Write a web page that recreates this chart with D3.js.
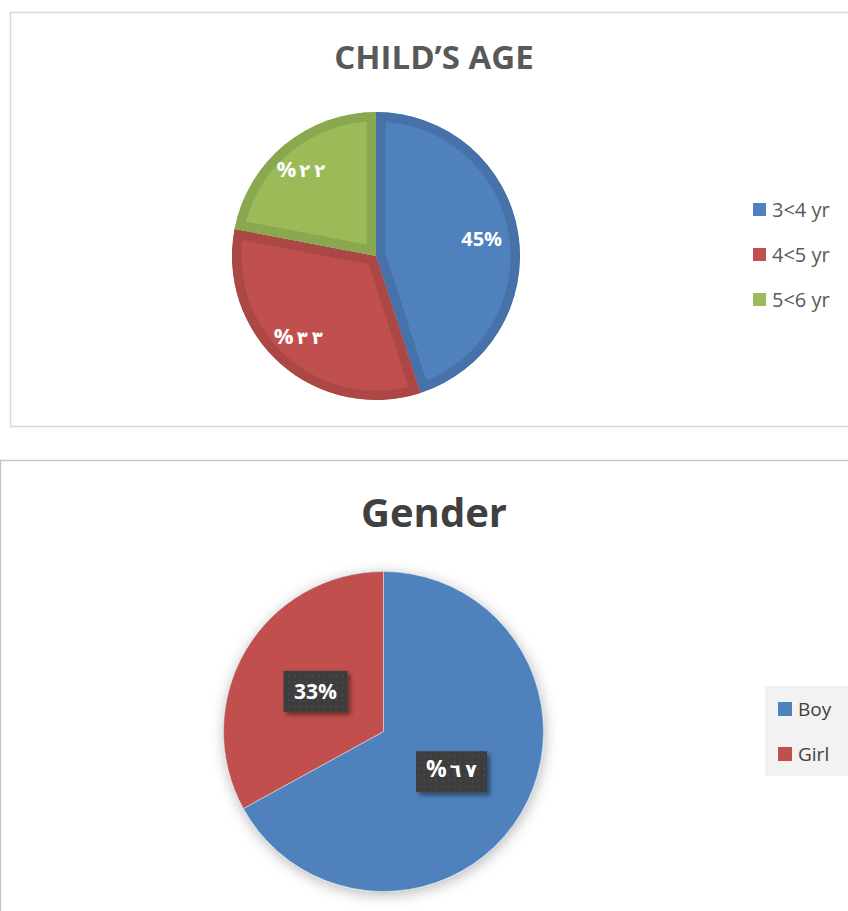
<!DOCTYPE html>
<html>
<head>
<meta charset="utf-8">
<script src="https://cdn.jsdelivr.net/npm/d3@7"></script>
<style>
  body { margin: 0; background: #fff; }
  svg { display: block; font-family: "Open Sans", "DejaVu Sans", sans-serif; }
</style>
</head>
<body>
<svg id="chart" width="848" height="911"></svg>
<script>
// data
const ageLabels = ["3<4 yr", "4<5 yr", "5<6 yr"];
const ageValues = [45, 33, 22];
const ageText = ["45%", "%٣٣", "%٢٢"];
const ageColors = ["#4f81bd", "#c0504d", "#9bbb59"];
const ageEdge = ["#4672a9", "#ab4744", "#8aa84f"];

const genderLabels = ["Boy", "Girl"];
const genderValues = [67, 33];
const genderText = ["%٦٧", "33%"];
const genderColors = ["#4f81bd", "#c0504d"];

const svg = d3.select("#chart");
const defs = svg.append("defs");

// dotted dark texture for gender labels
const pat = defs.append("pattern")
    .attr("id", "dots")
    .attr("width", 6).attr("height", 6)
    .attr("patternUnits", "userSpaceOnUse");
pat.append("rect").attr("width", 6).attr("height", 6).attr("fill", "#3d3d3d");
pat.append("circle").attr("cx", 3).attr("cy", 3).attr("r", 1).attr("fill", "#4d4d4d");

const glow = defs.append("filter").attr("id", "pieShadow")
    .attr("x", "-20%").attr("y", "-20%").attr("width", "140%").attr("height", "140%");
glow.append("feDropShadow")
    .attr("dx", 1).attr("dy", 3).attr("stdDeviation", 7)
    .attr("flood-color", "#000").attr("flood-opacity", 0.28);

const boxShadow = defs.append("filter").attr("id", "boxShadow")
    .attr("x", "-30%").attr("y", "-30%").attr("width", "160%").attr("height", "160%");
boxShadow.append("feDropShadow")
    .attr("dx", 3).attr("dy", 3).attr("stdDeviation", 2)
    .attr("flood-color", "#000").attr("flood-opacity", 0.45);

const pie = d3.pie().sort(null).value(d => d);

// arabic labels: big bold "%" then spaced, smaller digits
function writeLabel(sel, str, size) {
    if (str[0] === "%") {
        sel.append("tspan").attr("font-size", size + 2).text("%");
        Array.from(str.slice(1)).forEach((ch, k) => {
            sel.append("tspan")
                .attr("dx", k === 0 ? 3 : 4)
                .attr("font-family", "DejaVu Sans")
                .attr("font-size", size - 2)
                .text(ch);
        });
    } else {
        sel.attr("font-size", size).text(str);
    }
}

// ---------- top chart: child's age ----------
svg.append("rect")
    .attr("x", 10.5).attr("y", 12.5)
    .attr("width", 850).attr("height", 414)
    .attr("fill", "#fff").attr("stroke", "#d9d9d9").attr("stroke-width", 1.5);

svg.append("text")
    .attr("x", 434).attr("y", 69)
    .attr("text-anchor", "middle")
    .attr("font-size", 33).attr("font-weight", 700)
    .attr("fill", "#595959")
    .text("CHILD’S AGE");

const ageR = 144;
const ageArc = d3.arc().innerRadius(0).outerRadius(ageR);
const ageLabelArc = d3.arc().innerRadius(110).outerRadius(110);

const ageG = svg.append("g").attr("transform", "translate(376,256)");
const ageSlices = pie(ageValues);

ageSlices.forEach((d, i) => {
    defs.append("clipPath").attr("id", "ageClip" + i)
        .append("path").attr("d", ageArc(d));
});

ageG.selectAll("path.slice")
    .data(ageSlices)
    .join("path")
    .attr("class", "slice")
    .attr("d", ageArc)
    .attr("clip-path", (d, i) => `url(#ageClip${i})`)
    .attr("fill", (d, i) => ageColors[i])
    .attr("stroke", (d, i) => ageEdge[i])
    .attr("stroke-width", 19)
    .attr("stroke-linejoin", "miter");

ageG.selectAll("text")
    .data(ageSlices)
    .join("text")
    .attr("transform", d => `translate(${ageLabelArc.centroid(d)})`)
    .attr("text-anchor", "middle")
    .attr("dx", (d, i) => ageText[i][0] === "%" ? -5 : -3)
    .attr("dy", "0.36em")
    .attr("font-weight", 700)
    .attr("fill", "#fff")
    .each(function(d, i) { writeLabel(d3.select(this), ageText[i], 20); });

const ageLegend = svg.append("g").attr("transform", "translate(753,203)");
const ageRow = ageLegend.selectAll("g")
    .data(ageLabels)
    .join("g")
    .attr("transform", (d, i) => `translate(0,${i * 45})`);
ageRow.append("rect")
    .attr("width", 13).attr("height", 13)
    .attr("fill", (d, i) => ageColors[i]);
ageRow.append("text")
    .attr("x", 19).attr("y", 13.5)
    .attr("font-size", 20)
    .attr("fill", "#595959")
    .text(d => d);

// ---------- bottom chart: gender ----------
svg.append("rect")
    .attr("x", 0.5).attr("y", 460.5)
    .attr("width", 860).attr("height", 460)
    .attr("fill", "#fff").attr("stroke", "#c6c6c6").attr("stroke-width", 1.5);

svg.append("text")
    .attr("x", 434).attr("y", 527)
    .attr("text-anchor", "middle")
    .attr("font-size", 40).attr("font-weight", 700)
    .attr("fill", "#404040")
    .text("Gender");

const genR = 160;
const genArc = d3.arc().innerRadius(0).outerRadius(genR);
const genLabelArc = d3.arc().innerRadius(79).outerRadius(79);
const genSlices = pie(genderValues);

const genG = svg.append("g").attr("transform", "translate(383.5,731.5)");

genG.append("g")
    .attr("filter", "url(#pieShadow)")
    .selectAll("path")
    .data(genSlices)
    .join("path")
    .attr("d", genArc)
    .attr("fill", (d, i) => genderColors[i])
    .attr("stroke", "#d9e2f0")
    .attr("stroke-width", 0.6);

const genLab = genG.selectAll("g.lab")
    .data(genSlices)
    .join("g")
    .attr("class", "lab")
    .attr("transform", d => `translate(${genLabelArc.centroid(d)})`);

genLab.append("rect")
    .attr("x", (d, i) => i === 0 ? -35.5 : -32)
    .attr("y", -20.5)
    .attr("width", (d, i) => i === 0 ? 71 : 64)
    .attr("height", 41)
    .attr("fill", "url(#dots)")
    .attr("filter", "url(#boxShadow)");

genLab.append("text")
    .attr("text-anchor", "middle")
    .attr("dy", "0.36em")
    .attr("font-weight", 700)
    .attr("fill", "#fff")
    .each(function(d, i) { writeLabel(d3.select(this), genderText[i], 21); });

svg.append("rect")
    .attr("x", 765).attr("y", 686)
    .attr("width", 90).attr("height", 90)
    .attr("fill", "#f2f2f2");

const genLegend = svg.append("g").attr("transform", "translate(778,702)");
const genRow = genLegend.selectAll("g")
    .data(genderLabels)
    .join("g")
    .attr("transform", (d, i) => `translate(0,${i * 45})`);
genRow.append("rect")
    .attr("width", 14).attr("height", 14)
    .attr("fill", (d, i) => genderColors[i]);
genRow.append("text")
    .attr("x", 20).attr("y", 14)
    .attr("font-size", 19)
    .attr("fill", "#404040")
    .text(d => d);
</script>
</body>
</html>
